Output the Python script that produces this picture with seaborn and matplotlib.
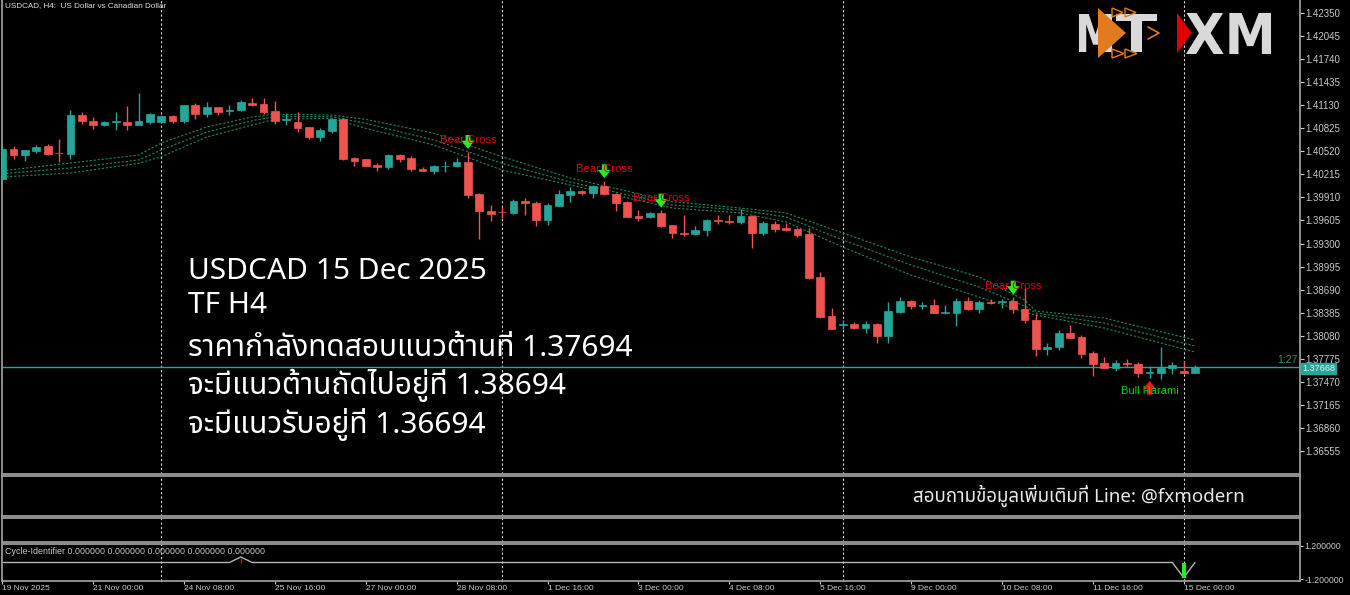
import seaborn as sns
import matplotlib.pyplot as plt
from matplotlib import font_manager
from matplotlib.ft2font import FT2Font
from matplotlib.textpath import TextPath
from matplotlib.font_manager import FontProperties
from matplotlib.patches import PathPatch, Polygon
from matplotlib.transforms import Affine2D, blended_transform_factory

# USDCAD H4 candles, 19 Nov 16:00 -> 15 Dec 04:00
opens = [1.40154, 1.40552, 1.40472, 1.40529, 1.40588, 1.40503, 1.40482, 1.41006, 1.40919, 1.40874,
         1.40906, 1.40910, 1.40870, 1.40913, 1.40913, 1.40989, 1.40923, 1.41131, 1.41012, 1.41108,
         1.41051, 1.41065, 1.41165, 1.41148, 1.41051, 1.40932, 1.40906, 1.40844, 1.40715, 1.40794,
         1.40945, 1.40433, 1.40415, 1.40336, 1.40309, 1.40468, 1.40433, 1.40287, 1.40264, 1.40322,
         1.40330, 1.40383, 1.39952, 1.39734, 1.39721, 1.39700, 1.39859, 1.39840, 1.39615, 1.39800,
         1.39942, 1.39999, 1.39965, 1.40062, 1.39956, 1.39850, 1.39660, 1.39647, 1.39708, 1.39541,
         1.39443, 1.39430, 1.39479, 1.39607, 1.39598, 1.39581, 1.39660, 1.39435, 1.39558, 1.39505,
         1.39488, 1.39426, 1.38856, 1.38339, 1.38220, 1.38229, 1.38180, 1.38229, 1.38078, 1.38396,
         1.38538, 1.38472, 1.38481, 1.38379, 1.38383, 1.38538, 1.38436, 1.38529, 1.38525, 1.38534,
         1.38436, 1.38290, 1.37902, 1.37924, 1.38114, 1.38061, 1.37849, 1.37716, 1.37654, 1.37716,
         1.37707, 1.37584, 1.37588, 1.37646, 1.37606, 1.37588]
highs = [1.40578, 1.40592, 1.40543, 1.40601, 1.40618, 1.40684, 1.41065, 1.41038, 1.40976, 1.40919,
         1.41042, 1.41122, 1.41298, 1.41033, 1.40998, 1.40998, 1.41139, 1.41157, 1.41175, 1.41112,
         1.41131, 1.41197, 1.41228, 1.41231, 1.41184, 1.41033, 1.41038, 1.40847, 1.40834, 1.40963,
         1.40963, 1.40446, 1.40419, 1.40362, 1.40481, 1.40485, 1.40455, 1.40313, 1.40344, 1.40393,
         1.40428, 1.40516, 1.39965, 1.39806, 1.39779, 1.39885, 1.39903, 1.39859, 1.39840, 1.40004,
         1.40052, 1.40004, 1.40079, 1.40128, 1.39965, 1.39859, 1.39747, 1.39717, 1.39740, 1.39549,
         1.39677, 1.39535, 1.39628, 1.39677, 1.39677, 1.39761, 1.39673, 1.39602, 1.39594, 1.39571,
         1.39505, 1.39505, 1.38922, 1.38445, 1.38286, 1.38260, 1.38269, 1.38242, 1.38521, 1.38587,
         1.38551, 1.38525, 1.38564, 1.38481, 1.38582, 1.38591, 1.38547, 1.38560, 1.38568, 1.38587,
         1.38710, 1.38366, 1.37985, 1.38154, 1.38220, 1.38091, 1.37871, 1.37792, 1.37752, 1.37773,
         1.37734, 1.37681, 1.37932, 1.37729, 1.37739, 1.37690]
lows = [1.40128, 1.40419, 1.40397, 1.40495, 1.40476, 1.40380, 1.40415, 1.40879, 1.40817, 1.40853,
        1.40804, 1.40804, 1.40866, 1.40879, 1.40900, 1.40892, 1.40900, 1.40949, 1.40972, 1.41006,
        1.40998, 1.41051, 1.41121, 1.41012, 1.40883, 1.40874, 1.40777, 1.40688, 1.40658, 1.40768,
        1.40410, 1.40330, 1.40322, 1.40264, 1.40283, 1.40380, 1.40264, 1.40260, 1.40224, 1.40251,
        1.40317, 1.39907, 1.39363, 1.39602, 1.39633, 1.39687, 1.39677, 1.39532, 1.39541, 1.39796,
        1.39850, 1.39938, 1.39907, 1.39946, 1.39734, 1.39647, 1.39602, 1.39633, 1.39518, 1.39368,
        1.39399, 1.39408, 1.39399, 1.39558, 1.39558, 1.39558, 1.39236, 1.39412, 1.39456, 1.39469,
        1.39382, 1.38829, 1.38313, 1.38163, 1.38171, 1.38167, 1.38118, 1.37977, 1.37985, 1.38383,
        1.38436, 1.38428, 1.38375, 1.38362, 1.38207, 1.38419, 1.38383, 1.38494, 1.38445, 1.38375,
        1.38242, 1.37813, 1.37822, 1.37892, 1.38044, 1.37786, 1.37548, 1.37654, 1.37614, 1.37667,
        1.37535, 1.37518, 1.37508, 1.37571, 1.37571, 1.37580]
closes = [1.40552, 1.40472, 1.40535, 1.40582, 1.40482, 1.40495, 1.41006, 1.40923, 1.40870, 1.40906,
          1.40919, 1.40870, 1.40923, 1.41019, 1.40989, 1.40927, 1.41131, 1.41012, 1.41108, 1.41042,
          1.41069, 1.41171, 1.41131, 1.41042, 1.40927, 1.40945, 1.40834, 1.40715, 1.40804, 1.40945,
          1.40423, 1.40393, 1.40327, 1.40317, 1.40472, 1.40423, 1.40283, 1.40264, 1.40330, 1.40330,
          1.40383, 1.39942, 1.39730, 1.39691, 1.39713, 1.39859, 1.39836, 1.39615, 1.39810, 1.39960,
          1.39995, 1.39965, 1.40066, 1.39956, 1.39840, 1.39651, 1.39641, 1.39704, 1.39528, 1.39439,
          1.39430, 1.39482, 1.39607, 1.39594, 1.39581, 1.39660, 1.39435, 1.39571, 1.39488, 1.39479,
          1.39416, 1.38847, 1.38330, 1.38171, 1.38233, 1.38180, 1.38229, 1.38078, 1.38405, 1.38542,
          1.38476, 1.38485, 1.38383, 1.38388, 1.38542, 1.38428, 1.38529, 1.38515, 1.38534, 1.38428,
          1.38286, 1.37898, 1.37932, 1.38114, 1.38048, 1.37840, 1.37707, 1.37654, 1.37716, 1.37699,
          1.37588, 1.37597, 1.37646, 1.37694, 1.37588, 1.37668]

# three dotted moving-average lines, read at a few bars
ma_idx = [0, 6, 12, 14, 18, 22, 24, 29, 32, 38, 44, 50, 59, 65, 69, 74, 80, 86, 90, 91, 97, 105]
ma_top = [1.40264, 1.40366, 1.40472, 1.40631, 1.40844, 1.40976, 1.41012, 1.41002, 1.40945, 1.40760, 1.40450,
          1.40168, 1.39854, 1.39770, 1.39704, 1.39439, 1.39121, 1.38856, 1.38551, 1.38405, 1.38313, 1.38021]
ma_mid = [1.40224, 1.40300, 1.40406, 1.40539, 1.40777, 1.40927, 1.40980, 1.40980, 1.40892, 1.40671, 1.40362,
          1.40115, 1.39810, 1.39744, 1.39651, 1.39346, 1.39015, 1.38723, 1.38471, 1.38379, 1.38246, 1.37941]
ma_bot = [1.40181, 1.40234, 1.40362, 1.40450, 1.40711, 1.40870, 1.40945, 1.40959, 1.40826, 1.40605, 1.40274,
          1.40075, 1.39770, 1.39704, 1.39585, 1.39253, 1.38882, 1.38591, 1.38392, 1.38352, 1.38180, 1.37862]

bear_cross_bars = [41, 53, 58, 89]
bull_harami_bars = [101]

# Cycle-Identifier sub-window
cycle_idx = [0, 20, 21, 22, 103, 104, 105]
cycle_val = [0, 0, 0.4, 0, 0, -1.1, 0]
cycle_up_bars = [21]
cycle_up_vals = [0.35]
cycle_dn_bars = [104]
cycle_dn_vals = [-1.1]

week_bars = [14, 44, 74, 104]
time_ticks = [0, 8, 16, 24, 32, 40, 48, 56, 64, 72, 80, 88, 96, 104]
time_labels = ["19 Nov 2025", "21 Nov 00:00", "24 Nov 08:00", "25 Nov 16:00", "27 Nov 00:00",
               "28 Nov 08:00", "1 Dec 16:00", "3 Dec 00:00", "4 Dec 08:00", "5 Dec 16:00",
               "9 Dec 00:00", "10 Dec 08:00", "11 Dec 16:00", "15 Dec 00:00"]
price_ticks = [1.42350, 1.42045, 1.41740, 1.41435, 1.41130, 1.40825, 1.40520, 1.40215, 1.39910, 1.39605,
               1.39300, 1.38995, 1.38690, 1.38385, 1.38080, 1.37775, 1.37470, 1.37165, 1.36860, 1.36555]

overlay_lines = ["USDCAD 15 Dec 2025", "TF H4", "ราคากำลังทดสอบแนวต้านที่ 1.37694",
                 "จะมีแนวต้านถัดไปอยู่ที่ 1.38694", "จะมีแนวรับอยู่ที่ 1.36694"]
contact_text = "สอบถามข้อมูลเพิ่มเติมที่ Line: @fxmodern"


def thai_family():
    found = []
    for f in font_manager.fontManager.ttflist:
        try:
            ft = FT2Font(f.fname)
            if ft.get_char_index(0x0E01) and ft.get_char_index(0x0E2D):
                found.append(f.name)
        except Exception:
            pass
    for pref in ["Noto Sans Thai", "Noto Sans Thai Looped", "Sarabun", "Loma", "Garuda", "Tlwg Typo"]:
        if pref in found:
            return pref
    return found[0] if found else "DejaVu Sans"


sns.set_style("dark", {"axes.facecolor": "black", "figure.facecolor": "black"})
plt.rcParams["font.family"] = ["Liberation Sans", "DejaVu Sans"]
THAI = [thai_family(), "DejaVu Sans"]

TEAL = "#26a69a"
RED = "#ef5350"
GREY = "#c8c8c8"
BORDER = "#9a9a9a"
W, H = 1350, 595

fig = plt.figure(figsize=(13.5, 5.95), dpi=100, facecolor="black")


def rect(x0, y0, x1, y1):
    return [x0 / W, 1 - y1 / H, (x1 - x0) / W, (y1 - y0) / H]


ax = fig.add_axes(rect(2, 0, 1300, 474))
ax2 = fig.add_axes(rect(2, 476, 1300, 516))
ax3 = fig.add_axes(rect(2, 518, 1300, 542))
ax4 = fig.add_axes(rect(2, 544, 1300, 581))

XLIM = (-0.02, 114.24)
for a in (ax, ax2, ax3, ax4):
    a.set_facecolor("black")
    a.set_xlim(*XLIM)
    a.grid(False)
    for s in a.spines.values():
        s.set_color(BORDER)
        s.set_linewidth(1.3)
    for wb in week_bars:
        a.axvline(wb, color="#d8d8d8", lw=0.8, ls=(0, (2, 2)), zorder=1)
    a.set_xticks([])
    a.set_yticks([])
ax.spines["top"].set_visible(False)

# ---- price pane
ax.set_ylim(1.362464, 1.42526)
idx = list(range(len(closes)))
cols = [TEAL if c >= o else RED for o, c in zip(opens, closes)]
ax.axhline(closes[-1], color=TEAL, lw=1, zorder=2)
ax.vlines(idx, lows, highs, colors=cols, lw=1, zorder=3)
bottoms = [min(o, c) for o, c in zip(opens, closes)]
heights = [max(abs(c - o), 0.00009) for o, c in zip(opens, closes)]
ax.bar(idx, heights, bottom=bottoms, width=0.68, color=cols, edgecolor=cols, lw=0.5, zorder=4)

for band in (ma_top, ma_mid, ma_bot):
    sns.lineplot(x=ma_idx, y=band, ax=ax, color="#1c8a59", lw=0.8, linestyle=(0, (2, 1.6)), zorder=2.5)

ARROW = "simple,head_width=0.62,head_length=0.4,tail_width=0.24"
for b in bear_cross_bars:
    ax.annotate("", xy=(b, highs[b]), xytext=(0, 12), textcoords="offset points",
                annotation_clip=False,
                arrowprops=dict(arrowstyle=ARROW, mutation_scale=15, color="#22f022", lw=0,
                                shrinkA=0, shrinkB=2))
    ax.annotate("Bear Cross", xy=(b, highs[b]), xytext=(0, 8.5), textcoords="offset points",
                ha="center", va="center", color="#e00000", fontsize=8.2, zorder=6)
for b in bull_harami_bars:
    ax.annotate("", xy=(b, lows[b]), xytext=(0, -12), textcoords="offset points",
                arrowprops=dict(arrowstyle=ARROW, mutation_scale=15, color="#ff1111", lw=0,
                                shrinkA=0, shrinkB=2))
    ax.annotate("Bull Harami", xy=(b, lows[b]), xytext=(0, -9), textcoords="offset points",
                ha="center", va="center", color="#11cc11", fontsize=8, zorder=6)

ax.yaxis.tick_right()
ax.set_yticks(price_ticks)
ax.set_yticklabels([f"{p:.5f}" for p in price_ticks])
ax.tick_params(axis="y", colors=GREY, labelsize=7, length=3, width=0.8, pad=1, direction="out")
ax.tick_params(axis="y", which="both", left=False)

tr = blended_transform_factory(ax.transAxes, ax.transData)
ax.annotate(f"{closes[-1]:.5f}", xy=(1.0015, closes[-1]), xycoords=tr, xytext=(0, -1.2),
            textcoords="offset points", ha="left", va="center", fontsize=6.6, color="#f0f0f0",
            zorder=10, annotation_clip=False,
            bbox=dict(boxstyle="square,pad=0.12", fc=TEAL, ec=TEAL))
ax.annotate("1:27", xy=(1.0, closes[-1]), xycoords=tr, xytext=(-2, 1.5), textcoords="offset points",
            ha="right", va="bottom", fontsize=7.5, color="#22a060")

# ---- cycle identifier pane
ax4.set_ylim(-1.34, 1.34)
sns.lineplot(x=cycle_idx, y=cycle_val, ax=ax4, color="#b4b4b4", lw=1)
ax4.vlines(cycle_up_bars, 0, cycle_up_vals, colors="#dd1111", lw=1)
ax4.vlines(cycle_dn_bars, 0, cycle_dn_vals, colors="#22ee22", lw=3)
ax4.yaxis.tick_right()
ax4.set_yticks([1.2, -1.2])
ax4.set_yticklabels(["1.200000", "-1.200000"])
ax4.tick_params(axis="y", colors=GREY, labelsize=6.3, length=2, width=0.8, pad=1, left=False)
ax4.text(0.002, 0.8, "Cycle-Identifier 0.000000 0.000000 0.000000 0.000000 0.000000",
         transform=ax4.transAxes, ha="left", va="center", fontsize=6.4, color=GREY)
ax4.set_xticks(time_ticks)
ax4.set_xticklabels(time_labels)
ax4.tick_params(axis="x", colors=GREY, labelsize=6.0, length=2.5, width=0.8, pad=0.5, bottom=True)
for t in ax4.get_xticklabels():
    t.set_ha("left")

# ---- overlay: header, annotation text, logo
axo = fig.add_axes([0, 0, 1, 1], zorder=20)
axo.set_xlim(0, W)
axo.set_ylim(H, 0)
axo.axis("off")
axo.patch.set_alpha(0)

axo.text(5, 6, "USDCAD, H4:  US Dollar vs Canadian Dollar", fontsize=5.9, color="#dcdcdc",
         ha="left", va="center")
for line, base in zip(overlay_lines, [279, 313, 356, 394, 433]):
    axo.text(188, base, line, fontsize=21.5, color="white", ha="left", va="baseline", family=THAI)
axo.text(913, 502, contact_text, fontsize=13.5, color="#e8e8e8", ha="left", va="baseline", family=THAI)


def logo_text(s, x0, y0, x1, y1, color):
    tp = TextPath((0, 0), s, size=10, prop=FontProperties(family="DejaVu Sans", weight="bold"))
    ext = tp.get_extents()
    t = Affine2D().translate(-ext.x0, -ext.y0).scale((x1 - x0) / ext.width, -(y1 - y0) / ext.height)
    t = t.translate(x0, y1)
    axo.add_patch(PathPatch(t.transform_path(tp), fc=color, ec="none"))


LOGO = "#d9d9d9"
ORANGE = "#e07b1f"
logo_text("M", 1079, 14, 1112, 52, LOGO)
logo_text("T", 1116, 14, 1157, 52, LOGO)
logo_text("XM", 1186, 13, 1271, 54, LOGO)
axo.add_patch(Polygon([(1098, 8), (1098, 58), (1126, 33)], closed=True, fc=ORANGE, ec="none"))
axo.add_patch(Polygon([(1112, 8), (1112, 17), (1123, 12.5)], closed=True, fc="none", ec=ORANGE, lw=1))
axo.add_patch(Polygon([(1125, 8), (1125, 17), (1136, 12.5)], closed=True, fc="none", ec=ORANGE, lw=1))
axo.add_patch(Polygon([(1112, 49), (1112, 58), (1124, 53.5)], closed=True, fc="none", ec=ORANGE, lw=1))
axo.add_patch(Polygon([(1125, 49), (1125, 58), (1137, 53.5)], closed=True, fc="none", ec=ORANGE, lw=1))
axo.plot([1148, 1159, 1148], [27, 33, 39], color=ORANGE, lw=1.2)
axo.add_patch(Polygon([(1177, 13), (1177, 53), (1192, 33)], closed=True, fc="#e00000", ec="none"))

fig.savefig("out.png", dpi=100, facecolor="black")
